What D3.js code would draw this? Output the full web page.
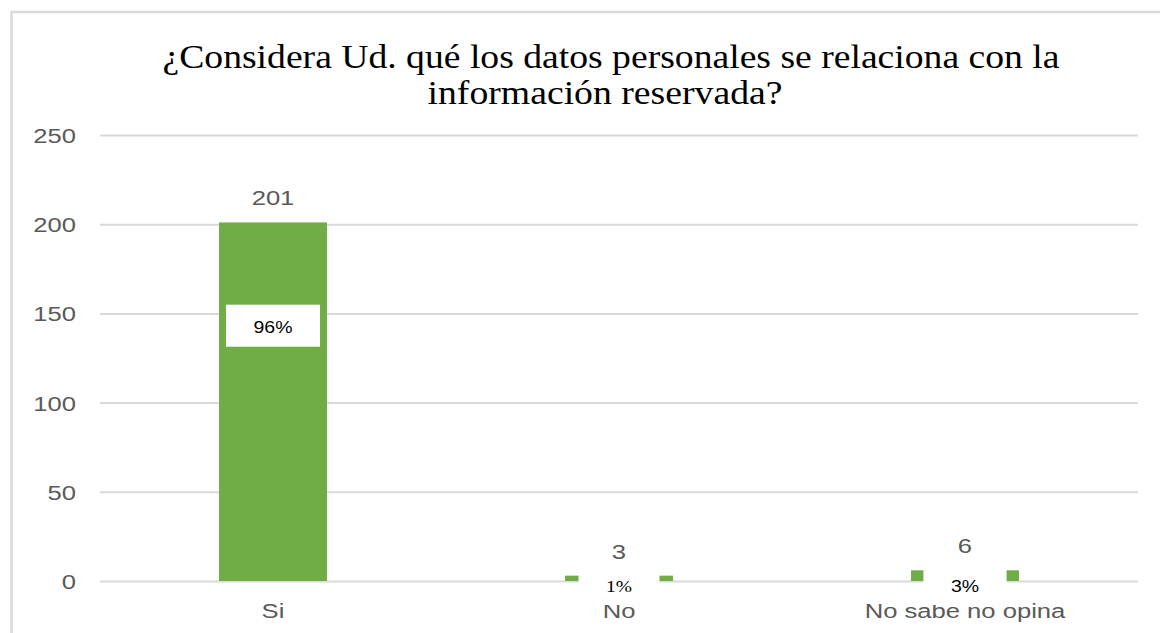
<!DOCTYPE html>
<html>
<head>
<meta charset="utf-8">
<script src="https://cdn.jsdelivr.net/npm/d3@7/dist/d3.min.js"></script>
<style>
  html, body { margin: 0; padding: 0; background: #ffffff; }
  svg { display: block; }
  .serif { font-family: "Liberation Serif", serif; }
  .sans { font-family: "Liberation Sans", sans-serif; }
</style>
</head>
<body>
<svg id="chart" width="1160" height="633"></svg>
<script>
// ---- data ----
const titleLines = ["¿Considera Ud. qué los datos personales se relaciona con la", "información reservada?"];
const categories = ["Si", "No", "No sabe no opina"];
const values = [201, 3, 6];
const percentLabels = ["96%", "1%", "3%"];
const yTicks = [0, 50, 100, 150, 200, 250];

// ---- styles (not data) ----
const sx = 1.22;               // horizontal stretch of the reference's text
const pctClasses = ["sans", "serif", "sans"];
const textGray = "#595959";
const gridGray = "#d9d9d9";
const barGreen = "#70ad47";

const svg = d3.select("#chart");
svg.append("rect").attr("width", 1160).attr("height", 633).attr("fill", "#fff");

// chart border (right and bottom edges fall outside the picture)
svg.append("rect")
  .attr("x", 11.5).attr("y", 12)
  .attr("width", 1200).attr("height", 700)
  .attr("fill", "none").attr("stroke", gridGray).attr("stroke-width", 2.5);

const plotLeft = 100, plotRight = 1138, plotTop = 135, plotBottom = 581;

const y = d3.scaleLinear().domain([0, 250]).range([plotBottom, plotTop]);
const x = d3.scaleBand().domain(categories).range([plotLeft, plotRight])
  .paddingInner(0.688).paddingOuter(0.344);

// title (serif, stretched to the reference widths)
const titleWidths = [897, 355];
const titleCenters = [611, 605];
const titleBaselines = [68, 104];
titleLines.forEach((line, i) => {
  svg.append("text")
    .attr("class", "serif")
    .attr("font-size", 33).attr("fill", "#000")
    .attr("x", titleCenters[i] - titleWidths[i] / 2)
    .attr("y", titleBaselines[i])
    .attr("textLength", titleWidths[i])
    .attr("lengthAdjust", "spacingAndGlyphs")
    .text(line);
});

// y axis with gridlines
const yAxis = svg.append("g")
  .attr("transform", `translate(${plotLeft},0)`)
  .call(d3.axisLeft(y).tickValues(yTicks).tickSize(-(plotRight - plotLeft)).tickFormat(d3.format("d")));
yAxis.attr("font-family", null);
yAxis.select(".domain").remove();
yAxis.selectAll(".tick line").attr("stroke", gridGray).attr("stroke-width", 2);
yAxis.selectAll(".tick text")
  .attr("x", null).attr("dy", "0.36em")
  .attr("transform", `translate(-24,0) scale(${sx},1)`)
  .attr("text-anchor", "end")
  .attr("class", "sans").attr("font-size", 21).attr("fill", textGray);

// bars
svg.append("g").selectAll("rect")
  .data(values)
  .join("rect")
  .attr("x", (d, i) => x(categories[i]))
  .attr("width", x.bandwidth())
  .attr("y", d => y(d))
  .attr("height", d => y(0) - y(d))
  .attr("fill", barGreen);

// x axis labels
const xAxis = svg.append("g")
  .attr("transform", `translate(0,${plotBottom})`)
  .call(d3.axisBottom(x).tickSize(0));
xAxis.attr("font-family", null);
xAxis.select(".domain").remove();
xAxis.selectAll(".tick text")
  .attr("y", null).attr("dy", null)
  .attr("transform", `translate(0,37) scale(${sx},1)`)
  .attr("class", "sans").attr("font-size", 21).attr("fill", textGray);

// value labels
svg.append("g").selectAll("text")
  .data(values)
  .join("text")
  .attr("text-anchor", "middle")
  .attr("transform", (d, i) => `translate(${x(categories[i]) + x.bandwidth() / 2},${y(d) - 17}) scale(${sx},1)`)
  .attr("class", "sans").attr("font-size", 21).attr("fill", textGray)
  .text(d => d);

// percentage labels with white boxes
const pg = svg.append("g");
const boxH = 42;
values.forEach((v, i) => {
  const cx = x(categories[i]) + x.bandwidth() / 2;
  const barPx = y(0) - y(v);
  const cy = barPx > boxH ? y(v * 0.712) : y(0) + 3;
  const g = pg.append("g");
  const box = g.append("rect").attr("fill", "#fff");
  const t = g.append("text")
    .attr("text-anchor", "middle")
    .attr("class", pctClasses[i]).attr("font-size", 16).attr("fill", "#000")
    .attr("transform", `translate(${cx},${cy + 2}) scale(${sx},1)`)
    .attr("dy", "0.36em")
    .text(percentLabels[i]);
  const w = t.node().getComputedTextLength() * sx + 55;
  box.attr("x", cx - w / 2).attr("y", cy - boxH / 2).attr("width", w).attr("height", boxH);
});
</script>
</body>
</html>
